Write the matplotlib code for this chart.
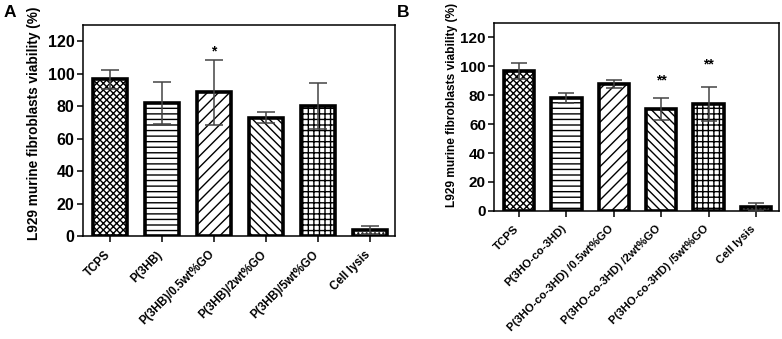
import numpy as np
import matplotlib
matplotlib.use("Agg")
import matplotlib.pyplot as plt
import matplotlib.transforms as mtransforms

plt.rcParams['font.family'] = ['Liberation Sans', 'DejaVu Sans']
plt.rcParams['font.weight'] = 'bold'
plt.rcParams['hatch.linewidth'] = 1.0

# Panel A data
labels_a = ['TCPS', 'P(3HB)', 'P(3HB)/0.5wt%GO', 'P(3HB)/2wt%GO',
            'P(3HB)/5wt%GO', 'Cell lysis']
means_a = [96.6, 82.1, 88.5, 73.0, 80.0, 3.5]
err_a = [5.8, 12.8, 19.8, 3.5, 14.2, 2.5]
stars_a = ['', '', '*', '', '', '']

# Panel B data
labels_b = ['TCPS', 'P(3HO-co-3HD)', 'P(3HO-co-3HD) /0.5wt%GO',
            'P(3HO-co-3HD) /2wt%GO', 'P(3HO-co-3HD) /5wt%GO', 'Cell lysis']
means_b = [96.9, 78.2, 87.8, 70.3, 73.8, 2.6]
err_b = [5.6, 3.6, 3.0, 7.6, 11.6, 3.0]
stars_b = ['', '', '', '**', '**', '']

hatches = ['xxxxx', '---', '///', '\\\\\\\\', '+++', '....']

fig = plt.figure(figsize=(7.82, 3.39), dpi=100)
ax_a = fig.add_axes([0.106, 0.304, 0.399, 0.622])
ax_b = fig.add_axes([0.632, 0.378, 0.364, 0.554])


def draw_panel(ax, labels, means, errs, stars, star_y, ytick_fs, xtick_fs, cap):
    x = np.arange(len(labels))
    for i in range(len(labels)):
        ax.bar(x[i], means[i], width=0.64, color='white', edgecolor='black',
               linewidth=2.6, hatch=hatches[i], zorder=2)
    ax.errorbar(x, means, yerr=errs, fmt='none', ecolor='#444444',
                elinewidth=1.1, capsize=cap, capthick=1.1, zorder=3)
    for i, s in enumerate(stars):
        if s:
            ax.text(x[i], star_y[i], s, ha='center', va='center',
                    fontsize=10, fontweight='bold')
    ax.set_xlim(-0.52, len(labels) - 0.52)
    ax.set_ylim(0, 130)
    ax.set_yticks([0, 20, 40, 60, 80, 100, 120])
    ax.set_xticks(x)
    ax.set_xticklabels(labels, rotation=45, ha='right', rotation_mode='anchor',
                       fontsize=xtick_fs, fontweight='bold')
    ax.tick_params(axis='y', labelsize=ytick_fs, width=1.1, length=4, pad=2)
    ax.tick_params(axis='x', width=1.1, length=4, pad=5)
    shift = mtransforms.ScaledTranslation(-4 / 72, 0, fig.dpi_scale_trans)
    for lab in ax.get_xticklabels():
        lab.set_transform(lab.get_transform() + shift)
    for lab in ax.get_yticklabels():
        lab.set_fontweight('bold')
    for sp in ax.spines.values():
        sp.set_linewidth(1.1)


draw_panel(ax_a, labels_a, means_a, err_a, stars_a,
           [0, 0, 114, 0, 0, 0], 11.5, 8.4, 6.5)
draw_panel(ax_b, labels_b, means_b, err_b, stars_b,
           [0, 0, 0, 90, 101, 0], 11, 8.2, 6)

fig.text(0.043, 0.635, 'L929 murine fibroblasts viability (%)', rotation=90,
         ha='center', va='center', fontsize=9.8, fontweight='bold')
fig.text(0.578, 0.69, 'L929 murine fibroblasts viability (%)', rotation=90,
         ha='center', va='center', fontsize=8.6, fontweight='bold')
fig.text(0.004, 0.962, 'A', fontsize=12.5, fontweight='bold', va='center')
fig.text(0.508, 0.962, 'B', fontsize=12.5, fontweight='bold', va='center')

fig.savefig('out.png', dpi=100)
